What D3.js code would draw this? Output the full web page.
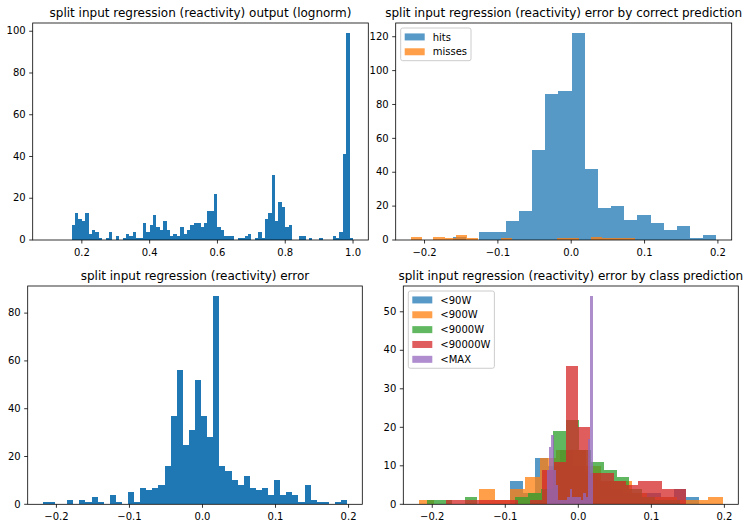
<!DOCTYPE html>
<html>
<head>
<meta charset="utf-8">
<script src="https://cdn.jsdelivr.net/npm/d3@7"></script>
<style>
  body { margin: 0; background: #fff; }
  svg { display: block; }
</style>
</head>
<body>
<svg id="chart" width="750" height="528"></svg>
<script>
// ---------------- DATA ----------------
// Panel 1: output (lognorm), 90 bins over [0.1, 1.0]
const outputRange = [0.1, 1.0];
const outputCounts = [
  0,0,0,0,0,0,0,
  7,13,10,9,13,3,5,4,1,0,1,4,0,2,0,1,3,2,4,1,1,8,4,7,12,6,5,9,5,2,3,2,6,3,5,7,8,8,6,8,14,
  14,22,6,5,2,2,2,0,1,1,2,3,0,1,4,1,10,13,31,9,18,16,6,7,0,0,2,2,0,1,0,0,1,0,0,0,2,1,4,41,99,1
];

// Panel 2: error by correct prediction
const hitsRange = [-0.161, 0.198];
const hitsCounts = [2,0,5,5,11,17,53,86,88,122,42,19,20,12,15,10,6,8,1,3];
const missesRange = [-0.2185, 0.0876];
const missesCounts = [2,0,2,1,3,1,0,0,1,0,0,0,0,1,1,0,2,1,1,1];
const correctLabels = ["hits", "misses"];

// Panel 3: error, 50 bins
const errorRange = [-0.2185, 0.198];
const errorCounts = [
  1,1,0,0,2,0,2,1,3,1,0,4,1,0,5,1,7,6,7,8,16,37,56,25,31,52,37,28,87,16,
  14,10,8,12,7,6,7,4,10,4,5,4,1,8,2,1,1,0,1,2
];

// Panel 4: error by class prediction
const classLabels = ["<90W", "<900W", "<9000W", "<90000W", "<MAX"];
const cls90WRange = [-0.0936, 0.1648];
const cls90WCounts = [6,3,12,10,14,10,8,6,4,3,3,3,2,4,2];
const cls900WRange = [-0.2188, 0.1982];
const cls900WCounts = [1,0,0,0,4,1,4,7,12,14,14,10,6,6,3,2,2,1,1,2];
const cls9000WRange = [-0.2078, 0.1393];
const cls9000WCounts = [1,1,0,2,0,0,0,2,3,4,19,22,14,11,9,7,4,2,1,1];
const cls90000WRange = [-0.1813, 0.1479];
const cls90000WCounts = [1,1,1,1,1,1,0,1,9,11,36,20,8,8,6,5,6,6,4,4];
const clsMAXRange = [-0.0434, 0.0196];
const clsMAXCounts = [9,15,18,9,5,1,1,1,1,2,4,2,2,2,2,1,3,2,17,54];

// Tick values
const outputXTicks = [0.2, 0.4, 0.6, 0.8, 1.0];
const errorXTicks = [-0.2, -0.1, 0.0, 0.1, 0.2];
const yTicksOutput = [0, 20, 40, 60, 80, 100];
const yTicksCorrect = [0, 20, 40, 60, 80, 100, 120];
const yTicksError = [0, 20, 40, 60, 80];
const yTicksClass = [0, 10, 20, 30, 40, 50];

const tab10 = ["#1f77b4", "#ff7f0e", "#2ca02c", "#d62728", "#9467bd"];

// ---------------- DRAWING ----------------
const svg = d3.select("#chart");
const FONT = "DejaVu Sans, Liberation Sans, sans-serif";

function drawPanel(cfg) {
  const {left, top, right, bottom, series, xTicks, yTicks, title, legend} = cfg;
  const lo = d3.min(series, s => s.range[0]);
  const hi = d3.max(series, s => s.range[1]);
  const span = hi - lo;
  const x = d3.scaleLinear().domain([lo - 0.05 * span, hi + 0.05 * span]).range([left, right]);
  const ymax = d3.max(series, s => d3.max(s.counts)) * 1.05;
  const y = d3.scaleLinear().domain([0, ymax]).range([bottom, top]);
  const px = v => Math.round(x(v));   // pixel-snapped, like matplotlib's bar snapping
  const py = v => Math.round(y(v));

  const g = svg.append("g");

  series.forEach(s => {
    const n = s.counts.length;
    const w = (s.range[1] - s.range[0]) / n;
    const bins = s.counts.map((c, i) => ({x0: s.range[0] + i * w, x1: s.range[0] + (i + 1) * w, c}))
      .filter(b => b.c > 0);
    // group opacity: overlaps inside one series never double up
    const sg = g.append("g").attr("opacity", s.alpha);
    // one combined path of all bars underneath (rasterised together => no seams)
    const p = d3.path();
    bins.forEach(b => {
      p.rect(px(b.x0), py(b.c), px(b.x1) - px(b.x0), py(0) - py(b.c));
    });
    sg.append("path").attr("d", p.toString()).attr("fill", s.color);
    sg.selectAll("rect").data(bins).join("rect")
      .attr("x", b => px(b.x0))
      .attr("width", b => px(b.x1) - px(b.x0))
      .attr("y", b => py(b.c))
      .attr("height", b => py(0) - py(b.c))
      .attr("fill", s.color);
  });

  // axes
  const fmtX = d3.format(".1f");
  const xa = g.append("g").attr("transform", `translate(0,${bottom})`)
    .call(d3.axisBottom(x).tickValues(xTicks).tickFormat(d => fmtX(d)).tickSize(3.5).tickPadding(3.5).offset(0));
  const ya = g.append("g").attr("transform", `translate(${left},0)`)
    .call(d3.axisLeft(y).tickValues(yTicks).tickFormat(d3.format("d")).tickSize(3.5).tickPadding(3.5).offset(0));
  [xa, ya].forEach(a => {
    a.select(".domain").remove();
    a.attr("font-family", FONT).attr("font-size", 10).attr("color", "#000");
    a.selectAll(".tick line").attr("stroke-width", 0.8);
    a.selectAll(".tick text").attr("fill", "#000");
  });
  xa.selectAll(".tick text").attr("dy", "0.88em");

  // spines
  g.append("rect")
    .attr("x", left).attr("y", top)
    .attr("width", right - left).attr("height", bottom - top)
    .attr("fill", "none").attr("stroke", "#000").attr("stroke-width", 0.8);

  // title
  g.append("text")
    .attr("x", (left + right) / 2).attr("y", top - 6)
    .attr("text-anchor", "middle")
    .attr("font-family", FONT).attr("font-size", 12).attr("fill", "#000")
    .text(title);

  // legend
  if (legend) {
    const lx = left + 5, ly = top + 5;
    const rowH = 9.85, gap = 5, pad = 4;
    const lg = g.append("g");
    const box = lg.append("rect")
      .attr("x", lx).attr("y", ly).attr("rx", 2).attr("ry", 2)
      .attr("fill", "#fff").attr("fill-opacity", 0.8)
      .attr("stroke", "#cccccc").attr("stroke-width", 1);
    let maxW = 0;
    series.forEach((s, i) => {
      const cy = ly + pad + rowH / 2 + i * (rowH + gap);
      lg.append("rect")
        .attr("x", lx + pad).attr("y", cy - 3.5)
        .attr("width", 20).attr("height", 7)
        .attr("fill", s.color).attr("fill-opacity", s.alpha);
      const t = lg.append("text")
        .attr("x", lx + pad + 20 + 8).attr("y", cy).attr("dy", "0.36em")
        .attr("font-family", FONT).attr("font-size", 10).attr("fill", "#000")
        .text(s.label);
      maxW = Math.max(maxW, t.node().getComputedTextLength());
    });
    box.attr("width", pad + 20 + 8 + maxW + pad)
       .attr("height", pad * 2 + series.length * rowH + (series.length - 1) * gap);
  }
}

drawPanel({
  left: 32.7, right: 368.3, top: 23, bottom: 240,
  series: [{range: outputRange, counts: outputCounts, color: tab10[0], alpha: 1}],
  xTicks: outputXTicks, yTicks: yTicksOutput,
  title: "split input regression (reactivity) output (lognorm)"
});

drawPanel({
  left: 395.7, right: 731.7, top: 23, bottom: 240,
  series: [
    {range: hitsRange, counts: hitsCounts, color: tab10[0], alpha: 0.75, label: correctLabels[0]},
    {range: missesRange, counts: missesCounts, color: tab10[1], alpha: 0.75, label: correctLabels[1]}
  ],
  xTicks: errorXTicks, yTicks: yTicksCorrect,
  title: "split input regression (reactivity) error by correct prediction",
  legend: true
});

drawPanel({
  left: 27.7, right: 362.3, top: 286, bottom: 504.3,
  series: [{range: errorRange, counts: errorCounts, color: tab10[0], alpha: 1}],
  xTicks: errorXTicks, yTicks: yTicksError,
  title: "split input regression (reactivity) error"
});

drawPanel({
  left: 403.3, right: 738.3, top: 286, bottom: 504.3,
  series: [
    {range: cls90WRange, counts: cls90WCounts, color: tab10[0], alpha: 0.75, label: classLabels[0]},
    {range: cls900WRange, counts: cls900WCounts, color: tab10[1], alpha: 0.75, label: classLabels[1]},
    {range: cls9000WRange, counts: cls9000WCounts, color: tab10[2], alpha: 0.75, label: classLabels[2]},
    {range: cls90000WRange, counts: cls90000WCounts, color: tab10[3], alpha: 0.75, label: classLabels[3]},
    {range: clsMAXRange, counts: clsMAXCounts, color: tab10[4], alpha: 0.75, label: classLabels[4]}
  ],
  xTicks: errorXTicks, yTicks: yTicksClass,
  title: "split input regression (reactivity) error by class prediction",
  legend: true
});
</script>
</body>
</html>
